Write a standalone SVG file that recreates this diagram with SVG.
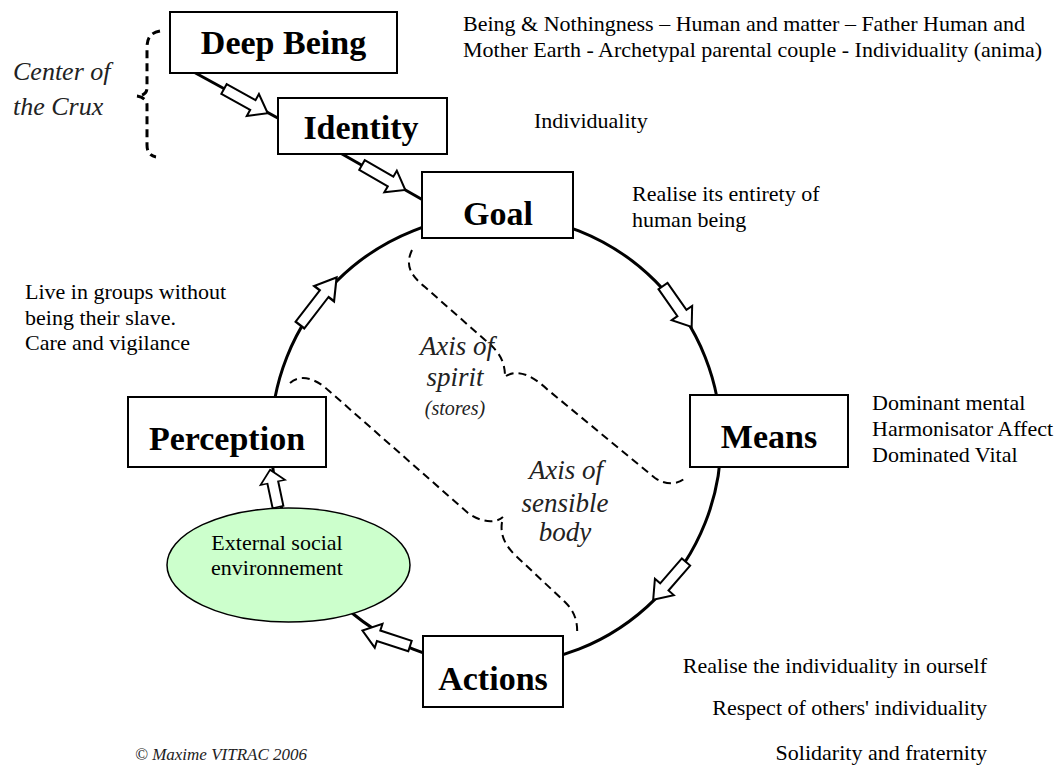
<svg xmlns="http://www.w3.org/2000/svg" xmlns:xlink="http://www.w3.org/1999/xlink" width="1059" height="767" viewBox="0 0 1059 767">
<style>
.bx{fill:#fff;stroke:#000;stroke-width:2}
.lbl{font-family:"Liberation Serif","Times New Roman",serif;font-weight:bold;font-size:34px;text-anchor:middle;fill:#000}
.t{font-family:"Liberation Serif","Times New Roman",serif;font-size:22px;fill:#000}
.it{font-family:"Liberation Serif","Times New Roman",serif;font-style:italic;font-size:27px;fill:#222;text-anchor:middle}
.dash{fill:none;stroke:#000;stroke-width:2;stroke-dasharray:8,5}
.ln{fill:none;stroke:#000;stroke-width:3}
.ar{fill:#fff;stroke:#000;stroke-width:2;stroke-linejoin:miter}
</style>
<defs>
<path id="ba" class="ar" d="M0,-5.5 H33 V-12.5 L50,0 L33,12.5 V5.5 H0 Z"/>
</defs>
<g id="connectors">
<circle class="ln" cx="496" cy="440" r="225"/>
<line class="ln" x1="190" y1="70" x2="285" y2="122"/>
<line class="ln" x1="335" y1="150" x2="430" y2="204"/>
<use xlink:href="#ba" transform="translate(224,89) rotate(29)"/>
<use xlink:href="#ba" transform="translate(362,165) rotate(30)"/>
<use xlink:href="#ba" transform="translate(663,286) rotate(55)"/>
<use xlink:href="#ba" transform="translate(686,562) rotate(131)"/>
<use xlink:href="#ba" transform="translate(410,646) rotate(198)"/>
<use xlink:href="#ba" transform="translate(278,507) rotate(-102) scale(0.76,1)"/>
<use xlink:href="#ba" transform="translate(300,325) rotate(-52.4) scale(1.2,1)"/>
</g>
<g id="braces">
<path class="dash" style="stroke-width:3" d="M160,31 C150,33 147,38 147,48 L147,88 C147,93 143,96 137,96 M137,96 C143,97 147,100 147,105 L147,145 C147,152 150,156 156,157"/>
<path class="dash" d="M412,250 C405,265 410,275 425,287 L485,340 C500,352 505,362 505,377 M506,376 C520,368 535,378 548,390 L655,478 C665,485 678,485 685,478"/>
<path class="dash" d="M290,383 C300,374 315,378 328,390 L468,513 C480,522 495,524 503,517 M502,522 C500,535 505,545 515,555 L565,602 C575,612 578,622 577,636"/>
</g>
<g id="deep-being"><rect class="bx" x="170" y="12" width="227" height="61"/><text class="lbl" x="283.5" y="54">Deep Being</text></g>
<g id="identity"><rect class="bx" x="278" y="98" width="169" height="56"/><text class="lbl" x="361" y="139">Identity</text></g>
<g id="goal"><rect class="bx" x="422" y="172" width="151" height="66"/><text class="lbl" x="498" y="225">Goal</text></g>
<g id="means"><rect class="bx" x="690" y="395" width="158" height="72"/><text class="lbl" x="769" y="448">Means</text></g>
<g id="perception"><rect class="bx" x="128" y="397" width="198" height="70"/><text class="lbl" x="227" y="450">Perception</text></g>
<g id="actions"><rect class="bx" x="423" y="636" width="140" height="71"/><text class="lbl" x="493" y="690">Actions</text></g>
<g id="environment"><ellipse cx="288.5" cy="565" rx="121.5" ry="57" fill="#ccffcc" stroke="#000" stroke-width="1.5"/>
<text class="t" x="277" y="550" text-anchor="middle">External social</text>
<text class="t" x="277" y="575" text-anchor="middle">environnement</text></g>
<g id="texts">
<text class="t" x="463" y="31">Being &amp; Nothingness – Human and matter – Father Human and</text>
<text class="t" x="463" y="57">Mother Earth - Archetypal parental couple - Individuality (anima)</text>
<text class="t" x="534" y="128">Individuality</text>
<text class="t" x="632" y="201">Realise its entirety of</text>
<text class="t" x="632" y="227">human being</text>
<text class="t" x="25" y="299">Live in groups without</text>
<text class="t" x="25" y="325">being their slave.</text>
<text class="t" x="25" y="350">Care and vigilance</text>
<text class="t" x="872" y="410">Dominant mental</text>
<text class="t" x="872" y="436">Harmonisator Affect</text>
<text class="t" x="872" y="462">Dominated Vital</text>
<text class="t" x="987" y="673" text-anchor="end">Realise the individuality in ourself</text>
<text class="t" x="987" y="715" text-anchor="end">Respect of others' individuality</text>
<text class="t" x="987" y="760" text-anchor="end">Solidarity and fraternity</text>
<text class="it" x="13" y="80" style="text-anchor:start;font-size:26px">Center of</text>
<text class="it" x="13" y="115" style="text-anchor:start;font-size:26px">the Crux</text>
<text class="it" x="457" y="355">Axis of</text>
<text class="it" x="455" y="386">spirit</text>
<text class="it" x="455" y="415" style="font-size:20px">(stores)</text>
<text class="it" x="566" y="479">Axis of</text>
<text class="it" x="565" y="512">sensible</text>
<text class="it" x="565" y="541">body</text>
<text class="it" x="135" y="760" style="text-anchor:start;font-size:17px">© Maxime VITRAC 2006</text>
</g>
</svg>
